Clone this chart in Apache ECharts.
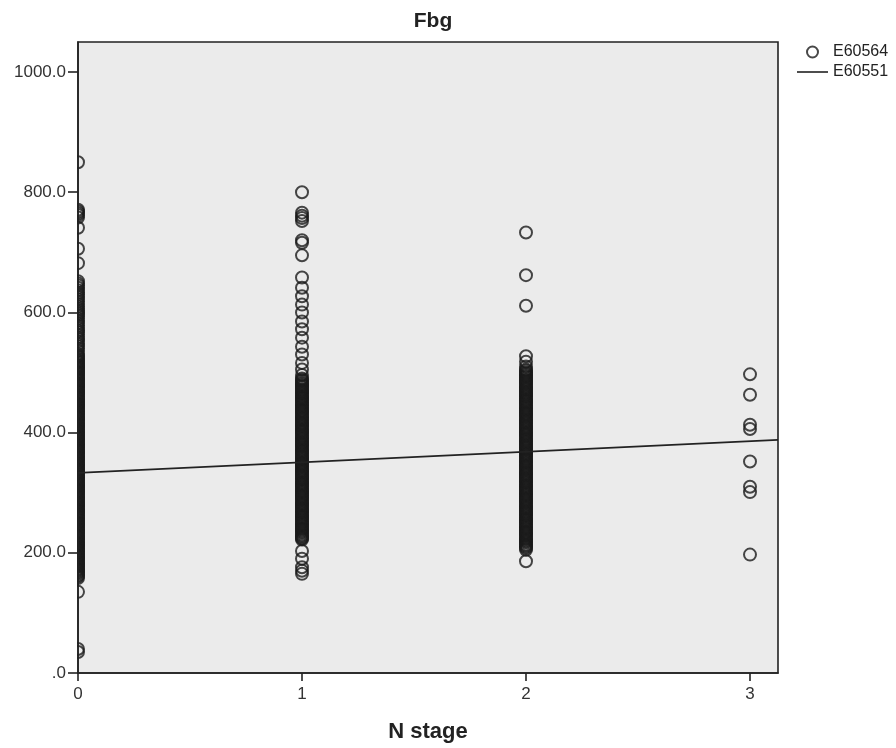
<!DOCTYPE html>
<html>
<head>
<meta charset="utf-8">
<script src="https://cdn.jsdelivr.net/npm/echarts@6/dist/echarts.min.js"></script>
<style>
  html, body { margin: 0; padding: 0; background: #fff; }
  #chart { width: 896px; height: 748px; }
</style>
</head>
<body>
<div id="chart"></div>
<script>
// N stage groups and Fbg values
var stages = [0, 1, 2, 3];
var fbgN0 = [850, 771, 768, 765, 762, 758, 741, 706, 682, 652, 648, 645, 641, 637, 633, 630, 626, 622, 618, 614,
    610, 606, 603, 600, 597, 594, 590, 586, 582, 578, 574, 570, 567, 563, 559, 556, 552, 548, 544, 540, 536,
    531, 528, 526, 523, 520, 518, 516, 513, 511, 509, 507, 505, 502, 500, 498, 496, 493, 491, 489, 487, 485,
    482, 480, 478, 476, 474, 471, 469, 467, 465, 463, 460, 458, 456, 454, 452, 449, 447, 445, 443, 441, 438,
    436, 434, 432, 430, 427, 425, 423, 421, 419, 416, 414, 412, 410, 408, 405, 403, 401, 399, 397, 394, 392,
    390, 388, 386, 383, 381, 379, 377, 375, 372, 370, 368, 366, 364, 361, 359, 357, 355, 353, 350, 348, 346,
    344, 342, 339, 337, 335, 333, 331, 328, 326, 324, 322, 320, 317, 315, 313, 311, 309, 306, 304, 302, 300,
    298, 295, 293, 291, 289, 287, 284, 282, 280, 278, 276, 273, 271, 269, 267, 265, 262, 260, 258, 256, 254,
    251, 249, 247, 245, 243, 240, 238, 236, 234, 232, 229, 227, 225, 223, 221, 218, 216, 214, 212, 210, 207,
    205, 203, 201, 199, 196, 194, 192, 190, 188, 185, 183, 181, 179, 177, 174, 172, 170, 168, 166, 163, 161,
    158, 135, 40, 35];
var fbgN1 = [800, 766, 761, 757, 752, 720, 716, 695, 658, 641, 627, 613, 600, 585, 572, 558, 543, 530, 516, 505,
    496, 490, 488, 486, 483, 481, 479, 477, 475, 472, 470, 468, 466, 464, 461, 459, 457, 455, 453, 450, 448,
    446, 444, 442, 439, 437, 435, 433, 431, 428, 426, 424, 422, 420, 417, 415, 413, 411, 409, 406, 404, 402,
    400, 398, 395, 393, 391, 389, 387, 384, 382, 380, 378, 376, 373, 371, 369, 367, 365, 362, 360, 358, 356,
    354, 351, 349, 347, 345, 343, 340, 338, 336, 334, 332, 329, 327, 325, 323, 321, 318, 316, 314, 312, 310,
    307, 305, 303, 301, 299, 296, 294, 292, 290, 288, 285, 283, 281, 279, 277, 274, 272, 270, 268, 266, 263,
    261, 259, 257, 255, 252, 250, 248, 246, 244, 241, 239, 237, 235, 233, 230, 228, 226, 224, 222, 203, 190,
    176, 170, 165];
var fbgN2 = [733, 662, 611, 527, 518, 510, 505, 503, 500, 498, 496, 494, 492, 489, 487, 485, 483, 481, 478, 476,
    474, 472, 470, 467, 465, 463, 461, 459, 456, 454, 452, 450, 448, 445, 443, 441, 439, 437, 434, 432, 430,
    428, 426, 423, 421, 419, 417, 415, 412, 410, 408, 406, 404, 401, 399, 397, 395, 393, 390, 388, 386, 384,
    382, 379, 377, 375, 373, 371, 368, 366, 364, 362, 360, 357, 355, 353, 351, 349, 346, 344, 342, 340, 338,
    335, 333, 331, 329, 327, 324, 322, 320, 318, 316, 313, 311, 309, 307, 305, 302, 300, 298, 296, 294, 291,
    289, 287, 285, 283, 280, 278, 276, 274, 272, 269, 267, 265, 263, 261, 258, 256, 254, 252, 250, 247, 245,
    243, 241, 239, 236, 234, 232, 230, 228, 225, 223, 221, 219, 217, 214, 212, 210, 208, 205, 186];
var fbgN3 = [497, 463, 413, 406, 352, 310, 301, 197];
var groups = [fbgN0, fbgN1, fbgN2, fbgN3];

// fit line (E60551) end points
var fitX = [0, 3.125];
var fitY = [333, 388];

var yTicks = [0, 200, 400, 600, 800, 1000];

var points = [];
for (var g = 0; g < groups.length; g++) {
    for (var i = 0; i < groups[g].length; i++) {
        points.push([stages[g], groups[g][i]]);
    }
}
var fitData = [];
for (var k = 0; k < fitX.length; k++) {
    fitData.push([fitX[k], fitY[k]]);
}

var font = 'Liberation Sans, Arial, sans-serif';
var chart = echarts.init(document.getElementById('chart'), null, { renderer: 'canvas' });

var option = {
    animation: false,
    title: {
        text: 'Fbg',
        left: 428,
        textAlign: 'center',
        top: 6,
        textStyle: { fontFamily: font, fontSize: 21, fontWeight: 'bold', color: '#222' }
    },
    legend: {
        orient: 'vertical',
        left: 792,
        top: 39,
        itemWidth: 31,
        itemHeight: 11,
        itemGap: 4,
        textStyle: { fontFamily: font, fontSize: 16, color: '#222' },
        data: [
            { name: 'E60564' },
            { name: 'E60551', icon: 'path://M0,0H31V1.6H0Z' }
        ]
    },
    grid: {
        left: 78, top: 42, right: 118, bottom: 74,
        show: true,
        backgroundColor: '#ebebeb',
        borderColor: '#222',
        borderWidth: 1.6
    },
    graphic: {
        elements: [{
            // hides left halves of the circles sitting on the y axis
            type: 'rect', z: 10,
            shape: { x: 0, y: 40, width: 77, height: 640 },
            style: { fill: '#fff' }
        }]
    },
    xAxis: {
        type: 'value',
        min: 0,
        max: 3.125,
        interval: 1,
        name: 'N stage',
        nameLocation: 'middle',
        nameGap: 48,
        nameTextStyle: { fontFamily: font, fontSize: 22, fontWeight: 'bold', color: '#222' },
        splitLine: { show: false },
        axisLine: { lineStyle: { color: '#222', width: 1.6 } },
        axisTick: { length: 8, lineStyle: { color: '#222', width: 1.6 } },
        axisLabel: {
            showMaxLabel: false,
            fontFamily: font, fontSize: 17, color: '#333', margin: 13,
            formatter: function (v) { return stages.indexOf(v) >= 0 ? String(v) : ''; }
        }
    },
    yAxis: {
        type: 'value',
        min: 0,
        max: 1050,
        interval: 200,
        z: 20,
        splitLine: { show: false },
        axisLine: { lineStyle: { color: '#222', width: 1.6 } },
        axisTick: { length: 10, lineStyle: { color: '#222', width: 1.6 } },
        axisLabel: {
            showMaxLabel: false,
            fontFamily: font, fontSize: 17, color: '#333', margin: 12,
            padding: [7, 0, 0, 0],
            formatter: function (v) {
                if (yTicks.indexOf(v) < 0) return '';
                return v === 0 ? '.0' : v.toFixed(1);
            }
        }
    },
    series: [
        {
            name: 'E60564',
            type: 'scatter',
            symbol: 'circle',
            symbolSize: 12,
            itemStyle: { color: 'rgba(0,0,0,0)', borderColor: '#1a1a1a', borderWidth: 2 },
            data: points
        },
        {
            name: 'E60551',
            type: 'line',
            symbol: 'none',
            itemStyle: { color: '#222' },
            lineStyle: { color: '#222', width: 1.6 },
            data: fitData
        }
    ]
};
chart.setOption(option);
</script>
</body>
</html>
